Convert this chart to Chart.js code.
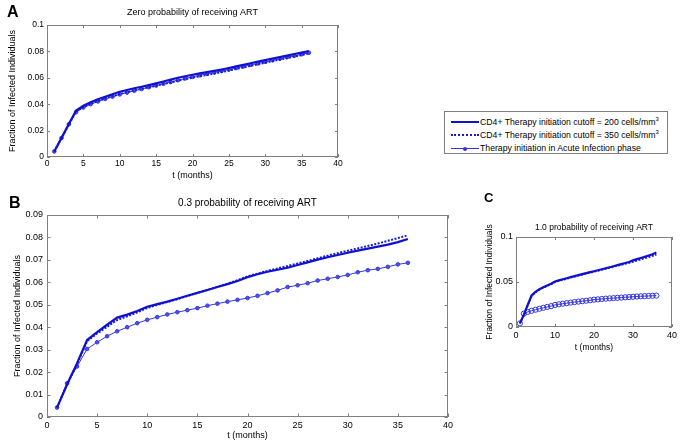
<!DOCTYPE html>
<html>
<head>
<meta charset="utf-8">
<script src="https://cdn.jsdelivr.net/npm/chart.js@4.4.1/dist/chart.umd.min.js"></script>
<style>
  body { margin: 0; background: #fff; font-family: "Liberation Sans", Arial, sans-serif; }
  #page { position: relative; width: 683px; height: 447px; overflow: hidden; }
  canvas { position: absolute; }
  .tag { position: absolute; font-weight: bold; line-height: 1; color: #000; }
  #legend { position: absolute; left: 444px; top: 111px; width: 222px; height: 41px;
            border: 1px solid #808080; background: #fff; font-size: 8.7px; color: #000; }
  .row { position: absolute; left: 0; height: 12px; line-height: 12px; width: 222px; }
  .row span.txt { position: absolute; left: 35px; top: 0; white-space: nowrap; }
  .sample { position: absolute; left: 6px; top: 6px; width: 28px; height: 0; }
  .dot { position: absolute; left: 12px; top: -2px; width: 4px; height: 4px; border-radius: 50%; background: #3535e0; }
  sup { font-size: 6px; line-height: 0; vertical-align: 4px; }
</style>
</head>
<body>
<div id="page">
  <canvas id="chartA" width="360" height="190" style="left:0;top:0"></canvas>
  <canvas id="chartB" width="470" height="259" style="left:0;top:188px"></canvas>
  <canvas id="chartC" width="203" height="175" style="left:480px;top:190px"></canvas>

  <div class="tag" style="left:7px;top:4px;font-size:16px">A</div>
  <div class="tag" style="left:9px;top:195px;font-size:16px">B</div>
  <div class="tag" style="left:484px;top:191px;font-size:13px">C</div>

  <div id="legend">
    <div class="row" style="top:4px">
      <div class="sample" style="border-top:2.5px solid #1010d0;top:5px"></div>
      <span class="txt">CD4+ Therapy initiation cutoff = 200 cells/mm<sup>3</sup></span>
    </div>
    <div class="row" style="top:16.5px">
      <div class="sample" style="border-top:2px dotted #1a1ad8;top:5px"></div>
      <span class="txt">CD4+ Therapy initiation cutoff = 350 cells/mm<sup>3</sup></span>
    </div>
    <div class="row" style="top:29.5px">
      <div class="sample" style="border-top:1px solid #3535e0;top:6px"><div class="dot"></div></div>
      <span class="txt">Therapy initiation in Acute Infection phase</span>
    </div>
  </div>
</div>

<script>
//Time axis (months)
const months = [1, 2, 3, 4, 5, 6, 7, 8, 9, 10, 11, 12, 13, 14, 15, 16, 17, 18,
                19, 20, 21, 22, 23, 24, 25, 26, 27, 28, 29, 30, 31, 32, 33, 34, 35, 36];

//Panel A - zero probability of receiving ART
const a200 = [0.0042, 0.0145, 0.025, 0.0352, 0.0388, 0.0415, 0.0437, 0.0457, 0.0476, 0.0494, 0.0508, 0.0521,
              0.0532, 0.0545, 0.0558, 0.0572, 0.0586, 0.06, 0.0612, 0.0623, 0.0633, 0.0643, 0.0653, 0.0663,
              0.0674, 0.0686, 0.0698, 0.071, 0.0722, 0.0734, 0.0746, 0.0757, 0.0768, 0.078, 0.0791, 0.0803];
const a350 = [0.0042, 0.0143, 0.0245, 0.0345, 0.0378, 0.0403, 0.0424, 0.0443, 0.046, 0.0477, 0.0491, 0.0504,
              0.0516, 0.0528, 0.054, 0.0553, 0.0565, 0.0578, 0.059, 0.0601, 0.0612, 0.0622, 0.0632, 0.0643,
              0.0655, 0.0667, 0.0679, 0.0691, 0.0702, 0.0714, 0.0726, 0.0738, 0.0749, 0.0761, 0.0773, 0.0785];
const aAcute = [0.0042, 0.0144, 0.0248, 0.034, 0.0375, 0.04, 0.0421, 0.044, 0.0457, 0.0474, 0.0488, 0.0502,
                0.0515, 0.0528, 0.0541, 0.0555, 0.0568, 0.0582, 0.0595, 0.0607, 0.0619, 0.063, 0.0641, 0.0652,
                0.0663, 0.0674, 0.0686, 0.0698, 0.0709, 0.0721, 0.0733, 0.0744, 0.0756, 0.0767, 0.0778, 0.079];

//Panel B - 0.3 probability of receiving ART
const b200 = [0.0042, 0.0145, 0.024, 0.0343, 0.0378, 0.0411, 0.0443, 0.0456, 0.0472, 0.0491, 0.0503, 0.0514,
              0.0527, 0.054, 0.0553, 0.0566, 0.0579, 0.0592, 0.0606, 0.0623, 0.0636, 0.0647, 0.0656, 0.0665,
              0.0677, 0.0689, 0.0701, 0.0712, 0.0722, 0.0732, 0.0741, 0.075, 0.0759, 0.0768, 0.0779, 0.0793];
const b350 = [0.0042, 0.0145, 0.0235, 0.0338, 0.0372, 0.0402, 0.0432, 0.0449, 0.0466, 0.0486, 0.0499, 0.0512,
              0.0525, 0.0539, 0.0553, 0.0566, 0.058, 0.0594, 0.0609, 0.0627, 0.0639, 0.0651, 0.0662, 0.0673,
              0.0684, 0.0695, 0.0707, 0.0719, 0.073, 0.0741, 0.0751, 0.0762, 0.0773, 0.0785, 0.0797, 0.081];
const bAcute = [0.0042, 0.015, 0.0225, 0.0303, 0.0333, 0.036, 0.0382, 0.04, 0.0418, 0.0433, 0.0445, 0.0457,
                0.0467, 0.0476, 0.0485, 0.0496, 0.0505, 0.0514, 0.0522, 0.053, 0.054, 0.0552, 0.0564, 0.0579,
                0.0587, 0.0596, 0.0608, 0.0616, 0.0624, 0.0633, 0.0645, 0.0654, 0.066, 0.0669, 0.068, 0.0687];

//Panel C - 1.0 probability of receiving ART
const c200 = [0.004, 0.0135, 0.0245, 0.035, 0.039, 0.042, 0.0442, 0.0462, 0.048, 0.0505, 0.0518, 0.053,
              0.0542, 0.0554, 0.0565, 0.0576, 0.0587, 0.0598, 0.0609, 0.062, 0.0631, 0.0642, 0.0653, 0.0664,
              0.0675, 0.0687, 0.0699, 0.0711, 0.0722, 0.074, 0.0754, 0.0767, 0.078, 0.0794, 0.0809, 0.0828];
const c350 = [0.004, 0.0132, 0.024, 0.0345, 0.0385, 0.0415, 0.0438, 0.0458, 0.0476, 0.05, 0.0513, 0.0525,
              0.0537, 0.0549, 0.056, 0.0571, 0.0582, 0.0593, 0.0604, 0.0615, 0.0626, 0.0637, 0.0648, 0.0659,
              0.067, 0.0681, 0.0692, 0.0703, 0.0714, 0.0725, 0.0738, 0.0751, 0.0764, 0.0777, 0.079, 0.0804];
const cAcute = [0.004, 0.0148, 0.0168, 0.018, 0.0192, 0.0203, 0.0213, 0.0223, 0.0232, 0.0245, 0.0252, 0.0259,
                0.0265, 0.0271, 0.0277, 0.0282, 0.0287, 0.0292, 0.0297, 0.0304, 0.0307, 0.0311, 0.0315, 0.0318,
                0.0321, 0.0324, 0.0327, 0.033, 0.0333, 0.0336, 0.0339, 0.0341, 0.0343, 0.0345, 0.0347, 0.0349];

//Labels
const titles = ['Zero probability of receiving ART', '0.3 probability of receiving ART', '1.0 probability of receiving ART'];
const xLabel = 't (months)';
const yLabel = 'Fraction of Infected Individuals';

Chart.defaults.font.family = '"Liberation Sans", Arial, sans-serif';
Chart.defaults.color = '#000';

//MATLAB style box with ticks pointing inwards
const boxTicks = {
    id: 'boxTicks',
    afterDraw(chart, args, opts) {
        const {ctx, chartArea: a, scales: {x, y}} = chart;
        const len = opts.len || 3;
        ctx.save();
        ctx.strokeStyle = '#808080';
        ctx.lineWidth = 1;
        ctx.strokeRect(Math.round(a.left) + 0.5, Math.round(a.top) + 0.5,
                       Math.round(a.width) - 1, Math.round(a.height) - 1);
        ctx.beginPath();
        x.ticks.forEach(t => {
            const px = Math.round(x.getPixelForValue(t.value)) + 0.5;
            ctx.moveTo(px, a.bottom); ctx.lineTo(px, a.bottom - len);
            ctx.moveTo(px, a.top); ctx.lineTo(px, a.top + len);
        });
        y.ticks.forEach(t => {
            const py = Math.round(y.getPixelForValue(t.value)) + 0.5;
            ctx.moveTo(a.left, py); ctx.lineTo(a.left + len, py);
            ctx.moveTo(a.right, py); ctx.lineTo(a.right - len, py);
        });
        ctx.stroke();
        ctx.restore();
    }
};

function pts(arr) {
    return arr.map((v, i) => ({x: months[i], y: v}));
}

function makeDatasets(s200, s350, acute, openMarkers) {
    return [{
        label: 'CD4+ Therapy initiation cutoff = 200 cells/mm3',
        data: pts(s200),
        borderColor: '#1010d0',
        borderWidth: 2.2,
        pointRadius: 0
    }, {
        label: 'CD4+ Therapy initiation cutoff = 350 cells/mm3',
        data: pts(s350),
        borderColor: '#1a1ad8',
        borderWidth: 2,
        borderDash: [2, 1.5],
        pointRadius: 0
    }, {
        label: 'Therapy initiation in Acute Infection phase',
        data: pts(acute),
        borderColor: '#3535e0',
        borderWidth: 1,
        pointRadius: openMarkers ? 2.6 : 1.8,
        pointBorderWidth: 1,
        pointBorderColor: '#3535e0',
        pointBackgroundColor: openMarkers ? 'rgba(0,0,0,0)' : '#5050e8'
    }];
}

function makeChart(el, cfg) {
    return new Chart(el, {
        type: 'line',
        data: {datasets: cfg.datasets},
        options: {
            responsive: false,
            animation: false,
            devicePixelRatio: 1,
            layout: {padding: {left: 0, right: cfg.padRight, top: 0, bottom: 0}},
            plugins: {
                legend: {display: false},
                tooltip: {enabled: false},
                title: {
                    display: true,
                    text: cfg.title,
                    fullSize: false,
                    font: {size: cfg.titleSize, weight: 'normal', lineHeight: 1.2},
                    padding: {top: cfg.titleTop, bottom: cfg.titleBottom}
                },
                boxTicks: {len: cfg.tickLen}
            },
            scales: {
                x: {
                    type: 'linear',
                    min: 0,
                    max: 40,
                    grid: {display: false, drawTicks: false},
                    border: {display: false},
                    ticks: {stepSize: cfg.xStep, padding: cfg.xTickPad, font: {size: cfg.tickSize}, maxRotation: 0},
                    title: {display: true, text: xLabel, font: {size: cfg.labelSize, lineHeight: 1.2},
                            padding: {top: 0, bottom: cfg.xTitlePad}},
                    afterFit: s => { s.height = cfg.xHeight; }
                },
                y: {
                    min: 0,
                    max: cfg.yMax,
                    grid: {display: false, drawTicks: false},
                    border: {display: false},
                    ticks: {
                        stepSize: cfg.yStep,
                        padding: cfg.yTickPad,
                        font: {size: cfg.tickSize},
                        callback: v => String(+v.toFixed(4))
                    },
                    title: {display: true, text: yLabel, font: {size: cfg.labelSize, lineHeight: 1.2},
                            padding: {top: cfg.yTitlePad, bottom: 0}},
                    afterFit: s => { s.width = cfg.yWidth; }
                }
            }
        },
        plugins: [boxTicks]
    });
}

const chartA = makeChart(document.querySelector('#chartA'), {
    datasets: makeDatasets(a200, a350, aAcute, false),
    title: titles[0], titleSize: 9, titleTop: 7, titleBottom: 7.2,
    padRight: 22, yWidth: 47, xHeight: 33,
    tickSize: 8.5, labelSize: 9, xTickPad: 2, yTickPad: 3,
    xTitlePad: 8.6, yTitlePad: 7.6, xStep: 5, yStep: 0.02, yMax: 0.1, tickLen: 3
});

const chartB = makeChart(document.querySelector('#chartB'), {
    datasets: makeDatasets(b200, b350, bAcute, false),
    title: titles[1], titleSize: 10, titleTop: 9, titleBottom: 6,
    padRight: 22, yWidth: 47, xHeight: 30,
    tickSize: 9, labelSize: 9, xTickPad: 3, yTickPad: 4,
    xTitlePad: 5.6, yTitlePad: 12.6, xStep: 5, yStep: 0.01, yMax: 0.09, tickLen: 3.5
});

const chartC = makeChart(document.querySelector('#chartC'), {
    datasets: makeDatasets(c200, c350, cAcute, true),
    title: titles[2], titleSize: 8.5, titleTop: 32.9, titleBottom: 3.9,
    padRight: 11, yWidth: 36, xHeight: 38,
    tickSize: 9, labelSize: 8.5, xTickPad: 3, yTickPad: 3,
    xTitlePad: 11.9, yTitlePad: 4.9, xStep: 10, yStep: 0.05, yMax: 0.1, tickLen: 3
});
</script>
</body>
</html>
